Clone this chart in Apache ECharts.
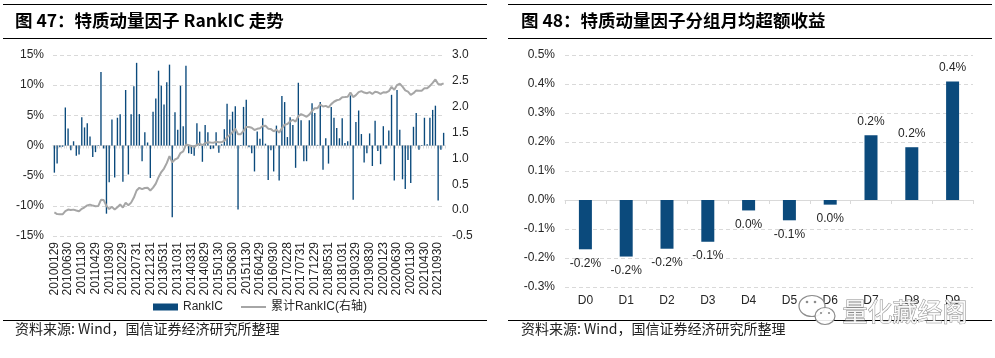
<!DOCTYPE html>
<html>
<head>
<meta charset="utf-8">
<script src="https://cdn.jsdelivr.net/npm/echarts@6/dist/echarts.min.js"></script>
<style>html,body{margin:0;padding:0;background:#fff;}#c{width:995px;height:358px;}</style>
</head>
<body>
<div id="c"></div>
<script>
// ---------- data ----------
const dates = [
'20100129','20100226','20100331','20100430','20100531','20100630','20100730','20100831','20100930','20101029','20101130','20101231',
'20110131','20110228','20110331','20110429','20110531','20110630','20110729','20110831','20110930','20111031','20111130','20111230',
'20120131','20120229','20120330','20120427','20120531','20120629','20120731','20120831','20120928','20121031','20121130','20121231',
'20130131','20130228','20130329','20130426','20130531','20130628','20130731','20130830','20130930','20131031','20131129','20131231',
'20140130','20140228','20140331','20140430','20140530','20140630','20140731','20140829','20140930','20141031','20141128','20141231',
'20150130','20150227','20150331','20150430','20150529','20150630','20150731','20150831','20150930','20151030','20151130','20151231',
'20160129','20160229','20160331','20160429','20160531','20160630','20160729','20160831','20160930','20161031','20161130','20161230',
'20170126','20170228','20170331','20170428','20170531','20170630','20170731','20170831','20170929','20171031','20171130','20171229',
'20180131','20180228','20180330','20180427','20180531','20180629','20180731','20180831','20180928','20181031','20181130','20181228',
'20190131','20190228','20190329','20190430','20190531','20190628','20190731','20190830','20190930','20191031','20191129','20191231',
'20200123','20200228','20200331','20200430','20200529','20200630','20200731','20200831','20200930','20201030','20201130','20201231',
'20210129','20210226','20210331','20210430','20210531','20210630','20210730','20210831','20210930','20211029','20211130'
];
const tickLabels = ['20100129','20100630','20101130','20110429','20110930','20120229','20120731','20121231','20130531','20131031',
'20140331','20140829','20150130','20150630','20151130','20160429','20160930','20170228','20170731','20171229','20180531','20181031',
'20190329','20190830','20200123','20200630','20201130','20210430','20210930'];
// monthly RankIC, %
const rankIC = [
-4.5,-3.0,-0.3,-0.2,6.3,2.8,-0.8,0.7,-1.7,-1.5,
4.7,3.0,3.7,1.5,-1.9,-1.1,0.1,12.2,-0.5,-11.3,
-6.1,4.3,-5.3,4.6,5.2,-6.0,9.2,-4.8,5.2,9.8,
13.7,5.2,-2.6,2.2,0.5,-5.4,5.6,7.8,12.4,9.9,
6.8,10.5,13.4,-11.9,5.5,2.6,9.9,3.2,13.2,-1.3,
-1.4,-1.7,3.7,2.3,-2.7,3.4,2.2,-0.6,-0.5,2.2,
-1.2,0.2,2.7,6.9,4.3,5.6,6.5,-10.6,0.1,6.4,
7.6,-0.3,-1.3,-4.3,2.3,1.1,4.5,0.3,-5.7,-0.8,
-4.3,3.3,-5.8,8.2,7.2,1.4,4.7,3.4,-3.7,10.4,
4.2,-2.6,-2.6,4.2,7.0,5.4,0.1,7.2,-4.0,1.2,
-3.0,6.4,4.6,2.9,1.2,4.5,0.4,0.7,8.3,-9.0,
3.9,5.8,1.9,-2.8,-1.3,2.0,-3.4,4.1,-0.9,-3.1,
3.2,-0.5,2.5,8.4,-5.8,9.2,2.6,-5.6,-7.2,-2.4,
-6.2,3.1,5.4,-0.7,0.1,4.6,0.2,4.6,5.9,6.6,
-9.1,-0.7,2.1
];
// cumulative RankIC (right axis)
const cumRankIC = [
-0.045,-0.075,-0.078,-0.080,-0.017,0.011,0.003,0.010,-0.007,-0.022,
0.025,0.055,0.092,0.107,0.088,0.077,0.078,0.200,0.195,0.082,
0.021,0.064,0.011,0.057,0.109,0.049,0.141,0.093,0.145,0.243,
0.380,0.432,0.406,0.428,0.433,0.379,0.435,0.513,0.637,0.736,
0.804,0.909,1.043,0.924,0.979,1.005,1.104,1.136,1.268,1.255,
1.241,1.224,1.261,1.284,1.257,1.291,1.313,1.307,1.302,1.324,
1.312,1.314,1.341,1.410,1.453,1.509,1.574,1.468,1.469,1.533,
1.609,1.606,1.593,1.550,1.573,1.584,1.629,1.632,1.575,1.567,
1.524,1.557,1.499,1.581,1.653,1.667,1.714,1.748,1.711,1.815,
1.857,1.831,1.805,1.847,1.917,1.971,1.972,2.044,2.004,2.016,
1.986,2.050,2.096,2.125,2.137,2.182,2.186,2.193,2.276,2.186,
2.225,2.283,2.302,2.274,2.261,2.281,2.247,2.288,2.279,2.248,
2.280,2.275,2.300,2.384,2.326,2.418,2.444,2.388,2.316,2.292,
2.230,2.261,2.315,2.308,2.309,2.355,2.357,2.403,2.462,2.528,
2.437,2.430,2.451
];
const groups = ['D0','D1','D2','D3','D4','D5','D6','D7','D8','D9'];
// monthly average excess return by group, %
const groupReturn = [-0.170,-0.195,-0.168,-0.144,-0.036,-0.070,-0.016,0.223,0.182,0.409];

// ---------- chart ----------
const FONT = "'Liberation Sans', Arial, 'Noto Sans CJK SC', sans-serif";
const CJK = "'Noto Sans CJK SC', 'Liberation Sans', sans-serif";
const BAR = '#0b4a7c';
const TXT = '#262626';
const GRIDC = '#d9d9d9';
const chart = echarts.init(document.getElementById('c'), null, {renderer: 'canvas'});

function pct1(v) {
  const r = Math.round(v * 10) / 10;
  return (r === 0 ? '0.0' : r.toFixed(1)) + '%';
}

const groupData = groupReturn.map(v => ({
  value: v,
  label: {position: v < 0 ? 'bottom' : 'top'}
}));

const hLine = (x1, y1, x2) => ({type: 'line', silent: true,
  shape: {x1: x1, y1: y1, x2: x2, y2: y1}, style: {stroke: '#000', lineWidth: 1}});

chart.setOption({
  animation: false,
  textStyle: {fontFamily: FONT},
  grid: [
    {left: 53, top: 55, width: 392, height: 181, containLabel: false},
    {left: 565, top: 55, width: 408, height: 232, containLabel: false}
  ],
  legend: {
    left: 148, top: 296,
    itemWidth: 25, itemHeight: 7, itemGap: 17,
    textStyle: {fontSize: 12, color: TXT, fontFamily: FONT},
    data: [{name: 'RankIC', icon: 'rect'}, {name: '累计RankIC(右轴)', itemStyle: {opacity: 0}}]
  },
  xAxis: [
    {type: 'category', gridIndex: 0, data: dates, position: 'bottom',
     axisLine: {show: false, onZero: false}, axisTick: {show: false},
     axisLabel: {rotate: 90, fontSize: 12, color: TXT, margin: 6,
       interval: (i, v) => tickLabels.indexOf(v) >= 0}},
    {type: 'category', gridIndex: 0, data: dates, position: 'bottom',
     axisLine: {show: true, onZero: true, onZeroAxisIndex: 0, lineStyle: {color: GRIDC, width: 1}},
     axisTick: {show: true, interval: 0, length: 3, lineStyle: {color: GRIDC}},
     axisLabel: {show: false}},
    {type: 'category', gridIndex: 1, data: groups, position: 'bottom',
     axisLine: {show: false, onZero: false}, axisTick: {show: false},
     axisLabel: {fontSize: 12, color: TXT, margin: 8}},
    {type: 'category', gridIndex: 1, data: groups, position: 'bottom',
     axisLine: {show: true, onZero: true, onZeroAxisIndex: 2, lineStyle: {color: GRIDC, width: 1}},
     axisTick: {show: true, length: 4, lineStyle: {color: GRIDC}},
     axisLabel: {show: false}}
  ],
  yAxis: [
    {type: 'value', gridIndex: 0, min: -15, max: 15, interval: 5, position: 'left',
     axisLine: {show: false}, axisTick: {show: false},
     axisLabel: {formatter: '{value}%', fontSize: 12, color: TXT, margin: 9},
     splitLine: {show: true, lineStyle: {color: GRIDC, type: [4, 3], width: 1}}},
    {type: 'value', gridIndex: 0, min: -0.5, max: 3.0, interval: 0.5, position: 'right',
     axisLine: {show: false}, axisTick: {show: false},
     axisLabel: {formatter: v => v.toFixed(1), fontSize: 12, color: TXT, margin: 7},
     splitLine: {show: false}},
    {type: 'value', gridIndex: 1, min: -0.3, max: 0.5, interval: 0.1,
     axisLine: {show: false}, axisTick: {show: false},
     axisLabel: {formatter: v => v.toFixed(1) + '%', fontSize: 12, color: TXT, margin: 10},
     splitLine: {show: true, lineStyle: {color: GRIDC, type: [4, 3], width: 1}}}
  ],
  series: [
    {name: 'RankIC', type: 'bar', xAxisIndex: 0, yAxisIndex: 0, data: rankIC,
     barWidth: '50%', itemStyle: {color: BAR}, z: 3},
    {name: '累计RankIC(右轴)', type: 'line', xAxisIndex: 0, yAxisIndex: 1, data: cumRankIC,
     symbol: 'none', showSymbol: false, lineStyle: {color: '#a6a6a6', width: 2}, itemStyle: {color: '#a6a6a6'}, z: 4},
    {name: 'group', type: 'bar', xAxisIndex: 2, yAxisIndex: 2, data: groupData,
     barWidth: 13, itemStyle: {color: BAR},
     label: {show: true, formatter: p => pct1(p.value), fontSize: 12, color: TXT, distance: 8}}
  ],
  graphic: [
    hLine(3, 4.5, 487), hLine(3, 38.5, 487), hLine(3, 320.5, 487),
    hLine(508, 4.5, 992), hLine(508, 38.5, 992), hLine(508, 320.5, 992),
    {type: 'text', left: 15, top: 12, silent: true,
     style: {text: '图 47：特质动量因子 RankIC 走势', font: "bold 17.5px " + CJK, fill: '#000'}},
    {type: 'text', left: 521, top: 12, silent: true,
     style: {text: '图 48：特质动量因子分组月均超额收益', font: "bold 17.5px " + CJK, fill: '#000'}},
    {type: 'text', left: 15, top: 322, silent: true,
     style: {text: '资料来源: Wind，国信证券经济研究所整理', font: "14px " + CJK, fill: '#222'}},
    {type: 'text', left: 521, top: 322, silent: true,
     style: {text: '资料来源: Wind，国信证券经济研究所整理', font: "14px " + CJK, fill: '#222'}},
    // watermark
    {type: 'ellipse', silent: true, z: 100, shape: {cx: 812, cy: 306, rx: 13, ry: 10.5},
     style: {fill: 'rgba(255,255,255,0.85)', stroke: '#8c8c8c', lineWidth: 1.2}},
    {type: 'ellipse', silent: true, z: 101, shape: {cx: 825, cy: 316, rx: 10, ry: 8.5},
     style: {fill: 'rgba(255,255,255,0.9)', stroke: '#8c8c8c', lineWidth: 1.2}},
    {type: 'circle', silent: true, z: 102, shape: {cx: 807, cy: 302, r: 1.3}, style: {fill: '#8c8c8c'}},
    {type: 'circle', silent: true, z: 102, shape: {cx: 815, cy: 302, r: 1.3}, style: {fill: '#8c8c8c'}},
    {type: 'circle', silent: true, z: 102, shape: {cx: 821, cy: 313, r: 1.1}, style: {fill: '#8c8c8c'}},
    {type: 'circle', silent: true, z: 102, shape: {cx: 829, cy: 313, r: 1.1}, style: {fill: '#8c8c8c'}},
    {type: 'text', left: 842, top: 298, silent: true, z: 102,
     style: {text: '量化藏经阁', font: "25px " + CJK, fill: 'rgba(255,255,255,0.9)', stroke: '#8c8c8c', lineWidth: 1}}
  ]
});
</script>
</body>
</html>
